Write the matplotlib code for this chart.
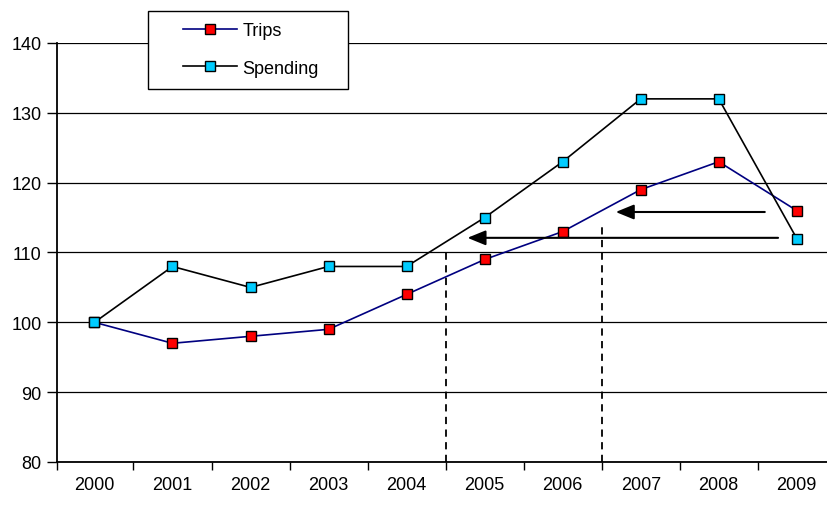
import matplotlib.pyplot as plt
from matplotlib.patches import Rectangle

years = ['2000', '2001', '2002', '2003', '2004', '2005', '2006', '2007', '2008', '2009']
trips = [100, 97, 98, 99, 104, 109, 113, 119, 123, 116]
spending = [100, 108, 105, 108, 108, 115, 123, 132, 132, 112]

plt.rcParams['font.family'] = ['Liberation Sans Narrow', 'Liberation Sans', 'DejaVu Sans']

fig = plt.figure(figsize=(8.28, 5.10), dpi=100)
ax = fig.add_axes([57 / 828, 1 - 463 / 510, 1 - 57 / 828, (463 - 44) / 510])

x = list(range(len(years)))
ax.plot(x, trips, color='#000080', lw=1.2, marker='s', ms=7, mfc='#ff0000', mec='black', mew=1.0,
        label='Trips', zorder=3)
ax.plot(x, spending, color='black', lw=1.2, marker='s', ms=7, mfc='#00ccff', mec='black', mew=1.0,
        label='Spending', zorder=3)

ax.set_ylim(80, 140)
ax.set_yticks(range(80, 141, 10))
ax.set_xlim(-0.48, 9.4)
ax.set_xticks([i - 0.5 for i in range(1, 10)] + [-0.48])
ax.set_xticklabels([])
ax.set_xticks(x, minor=True)
ax.set_xticklabels(years, minor=True)
ax.tick_params(axis='x', which='minor', length=0, pad=10, labelsize=13)
ax.tick_params(axis='x', which='major', length=6, width=1, direction='out')
ax.tick_params(axis='y', length=7, width=1, direction='out', labelsize=13, pad=4)
ax.grid(axis='y', color='black', lw=0.9)
ax.set_axisbelow(True)
for s in ['top', 'right']:
    ax.spines[s].set_visible(False)
ax.spines['left'].set_linewidth(1.3)
ax.spines['bottom'].set_linewidth(1.3)

# dashed markers
ax.plot([4.5, 4.5], [80, 110.5], color='black', lw=1.3, ls=(0, (4, 3)), zorder=2)
ax.plot([6.5, 6.5], [80, 114.2], color='black', lw=1.3, ls=(0, (4, 3)), zorder=2)

# arrows
arrow = dict(arrowstyle='-|>,head_length=1.1,head_width=0.45', color='black', lw=1.5, shrinkA=0, shrinkB=0)
ax.annotate('', xy=(6.68, 115.8), xytext=(8.59, 115.8), arrowprops=arrow)
ax.annotate('', xy=(4.78, 112.1), xytext=(8.76, 112.1), arrowprops=arrow)

# legend box drawn separately so the entries can sit indented inside it
box = Rectangle((148 / 828, 1 - 90 / 510), 200 / 828, 78 / 510, transform=fig.transFigure,
                facecolor='white', edgecolor='black', lw=1.0, zorder=4)
fig.patches.append(box)
handles, labels = ax.get_legend_handles_labels()
leg = fig.legend(handles, labels, loc='upper left', bbox_to_anchor=(183 / 828, 1 - 23 / 510),
                 fontsize=13, frameon=False, borderpad=0, borderaxespad=0, handlelength=3.0,
                 labelspacing=1.15, handletextpad=0.3)
leg.set_zorder(5)

fig.savefig('out.png', dpi=100)
